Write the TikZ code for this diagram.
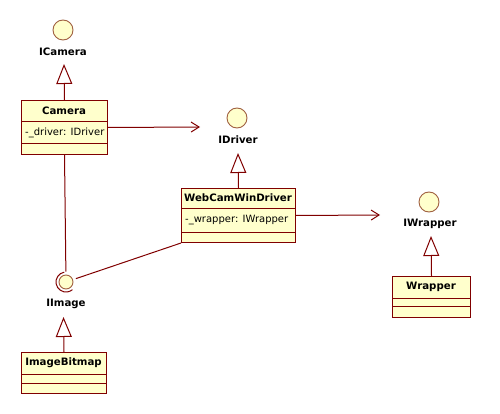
\documentclass[tikz,border=0pt]{standalone}
\usepackage{fontspec}
\setmainfont{DejaVu Sans}
\usetikzlibrary{arrows.meta}
\definecolor{umlline}{HTML}{800000}
\definecolor{umlfill}{HTML}{FFFFCC}
\definecolor{ifcline}{HTML}{A06040}
\begin{document}
\begin{tikzpicture}[x=1pt,y=-1pt,
  classbox/.style={draw=umlline, fill=umlfill, line width=1pt, rectangle, inner sep=0pt, anchor=north west},
  compline/.style={draw=umlline, line width=1pt},
  classname/.style={font=\bfseries\fontsize{10.2}{12}\selectfont, inner sep=0pt},
  attr/.style={font=\fontsize{10}{12}\selectfont, anchor=west, inner sep=0pt},
  ifc/.style={circle, draw=ifcline, fill=umlfill, minimum size=20pt, inner sep=0pt, line width=0.9pt},
  ifclabel/.style={font=\bfseries\fontsize{10.2}{12}\selectfont, inner sep=0pt},
  realize/.style={draw=umlline, line width=1pt, -{Triangle[open, length=20pt, width=16pt, fill=white]}},
  depend/.style={draw=umlline, line width=1pt, -{Straight Barb[length=8pt, width=10pt]}},
  assoc/.style={draw=umlline, line width=1pt}]
\useasboundingbox (0,0) rectangle (500,414);

% Camera
\node[classbox, minimum width=86pt, minimum height=54pt] (camera) at (21,100) {};
\draw[compline] (21,122) -- (107,122) (21,144) -- (107,144);
\node[classname] (cameraname) at (64,111) {Camera};
\node[attr] (cameraattr) at (25,133) {-\_driver: IDriver};

% WebCamWinDriver
\node[classbox, minimum width=114pt, minimum height=54pt] (webcam) at (181,188) {};
\draw[compline] (181,208) -- (295,208) (181,232) -- (295,232);
\node[classname] (webcamname) at (238,198) {WebCamWinDriver};
\node[attr] (webcamattr) at (185,220) {-\_wrapper: IWrapper};

% Wrapper
\node[classbox, minimum width=78pt, minimum height=41pt] (wrapper) at (392,276) {};
\draw[compline] (392,298) -- (470,298) (392,306) -- (470,306);
\node[classname] (wrappername) at (431,287) {Wrapper};

% ImageBitmap
\node[classbox, minimum width=85pt, minimum height=41pt] (bitmap) at (21,352) {};
\draw[compline] (21,374) -- (106,374) (21,383) -- (106,383);
\node[classname] (bitmapname) at (63.5,363) {ImageBitmap};

% Interfaces
\node[ifc] (icamera) at (63,30) {};
\node[ifclabel] (icameralabel) at (63,52) {ICamera};
\coordinate (icameratip) at (64,64);
\node[ifc] (idriver) at (237,118) {};
\node[ifclabel] (idriverlabel) at (238,140) {IDriver};
\coordinate (idrivertip) at (238,153);
\node[ifc] (iwrapper) at (429,202) {};
\node[ifclabel] (iwrapperlabel) at (430,224) {IWrapper};
\coordinate (iwrappertip) at (431,236);
\node[ifc, minimum size=14pt] (iimage) at (66,282) {};
\node[ifclabel] (iimagelabel) at (66,304) {IImage};
\coordinate (iimagetip) at (63.5,317);

% Realizations
\draw[realize] (camera.north) -- (icameratip);
\draw[realize] (webcam.north) -- (idrivertip);
\draw[realize] (wrapper.north) -- (iwrappertip);
\draw[realize] (bitmap.north) -- (iimagetip);

% Dependencies
\coordinate (camdep) at (200,127);
\coordinate (webdep) at (380,215);
\draw[depend] (camera.east) -- (camdep);
\draw[depend] (webcam.east) -- (webdep);

% Required interface (socket)
\draw[assoc] (iimage.center) ++(-100:10) arc[start angle=-100, end angle=-310, radius=10];
\draw[assoc, shorten >=3pt] (camera.south) -- (iimage);
\draw[assoc, shorten >=3pt] (webcam.south west) -- (iimage);
\end{tikzpicture}
\end{document}
